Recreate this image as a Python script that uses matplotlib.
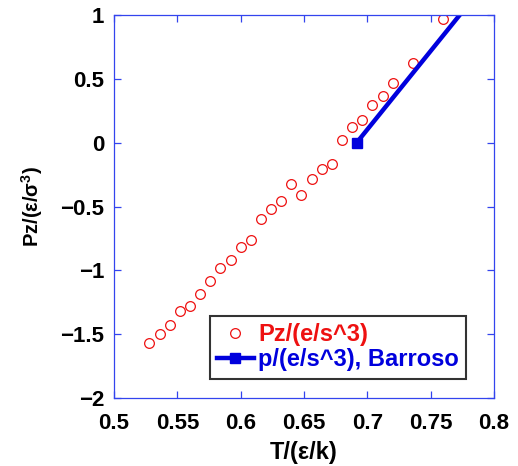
import numpy as np
import matplotlib
matplotlib.use("Agg")
import matplotlib.pyplot as plt

# simulation data: temperature vs Pz
T_sim = [0.528, 0.536, 0.544, 0.552, 0.560, 0.568, 0.576, 0.584, 0.592, 0.600,
         0.608, 0.616, 0.624, 0.632, 0.640, 0.648, 0.656, 0.664, 0.672, 0.680,
         0.688, 0.696, 0.704, 0.712, 0.720, 0.736, 0.760]
Pz_sim = [-1.572, -1.498, -1.425, -1.316, -1.279, -1.185, -1.081, -0.984, -0.916, -0.817,
          -0.760, -0.595, -0.517, -0.455, -0.324, -0.407, -0.282, -0.206, -0.170, 0.023,
          0.123, 0.180, 0.298, 0.368, 0.470, 0.624, 0.971]

# Barroso reference line
T_bar = [0.6916, 0.80]
P_bar = [0.0, 1.333]

xticks = [0.5, 0.55, 0.6, 0.65, 0.7, 0.75, 0.8]
yticks = [-2, -1.5, -1, -0.5, 0, 0.5, 1]

plt.rcParams['font.family'] = ['Liberation Sans', 'DejaVu Sans']
plt.rcParams['font.weight'] = 'bold'
plt.rcParams['mathtext.default'] = 'regular'

fig = plt.figure(figsize=(5.18, 4.66), dpi=100)
ax = fig.add_axes([114/518, 1 - 398/466, 380/518, 383/466])

ax.plot(T_sim, Pz_sim, 'o', mfc='none', mec='#ee1111', ms=7, mew=0.9,
        label='Pz/(e/s^3)')
ax.plot(T_bar, P_bar, '-s', color='#0000dd', lw=3.2, ms=7,
        label='p/(e/s^3), Barroso')

ax.set_xlim(0.5, 0.8)
ax.set_ylim(-2, 1)
ax.set_xticks(xticks)
ax.set_xticklabels([f'{v:g}' for v in xticks])
ax.set_yticks(yticks)
ax.set_yticklabels([f'{v:g}'.replace('-', '\u2212') for v in yticks])

for s in ax.spines.values():
    s.set_color('#3344ee')
    s.set_linewidth(0.9)
ax.tick_params(direction='in', top=True, right=True, color='#3344ee',
               length=5, width=0.9, labelsize=16)
ax.tick_params(axis='x', pad=11)
ax.tick_params(axis='y', pad=7)
for lab in ax.get_xticklabels() + ax.get_yticklabels():
    lab.set_fontweight('bold')

ax.set_xlabel('T/(ε/k)', fontsize=17, fontweight='bold', labelpad=5)
ax.set_ylabel('Pz/(ε/σ$^3$)', fontsize=14.5, fontweight='bold', labelpad=11)

leg = ax.legend(loc='upper left', bbox_to_anchor=((210 - 114) / 380, (398 - 316) / 383),
                fontsize=17, frameon=True, fancybox=False, edgecolor='black',
                handlelength=1.55, handletextpad=0.2, borderpad=0.3,
                labelspacing=0.1, borderaxespad=0)
leg.get_frame().set_linewidth(1.5)
for txt, c in zip(leg.get_texts(), ['#ee1111', '#0000dd']):
    txt.set_color(c)
    txt.set_fontweight('bold')

fig.savefig('out.png', dpi=100)
